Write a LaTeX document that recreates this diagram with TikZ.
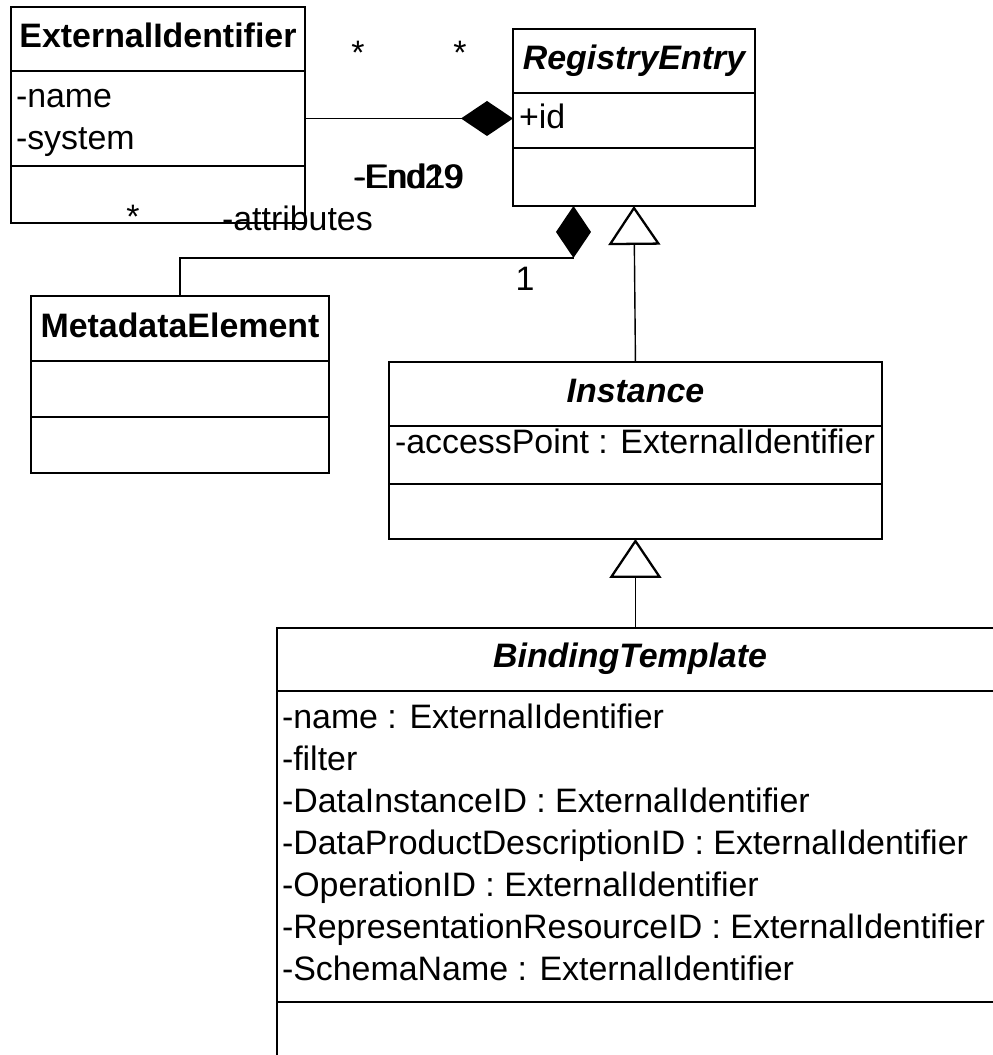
\documentclass[tikz,border=0pt]{standalone}
\usepackage{fontspec}
\setmainfont{Liberation Sans}
\usetikzlibrary{arrows.meta,positioning,calc}

\tikzset{
  every node/.style={font=\fontsize{19.3pt}{23pt}\selectfont, inner sep=0pt, outer sep=0pt},
  classpart/.style={draw, line width=1.5pt, minimum width=#1},
  classname/.style={text height=0.49cm, text depth=0.14cm},
  attr/.style={anchor=base west},
  mult/.style={anchor=base},
  role/.style={anchor=base west},
  composes/.style={line width=0.8pt, -{Diamond[length=1.04cm, width=0.7cm]}},
  inherits/.style={line width=0.8pt, -{Triangle[open, length=0.78cm, width=1.04cm, line width=1.3pt, fill=white]}}
}

\begin{document}
\begin{tikzpicture}[x=0.02cm, y=-0.02cm]
  \useasboundingbox (0,0) rectangle (993,1055);
  \clip (0,0) rectangle (993,1055);

  %the classes
  \node[classpart=5.88cm, minimum height=1.28cm, anchor=north west, classname] (extN) at (11,7) {\bfseries ExternalIdentifier};
  \node[classpart=5.88cm, minimum height=1.9cm, below=0pt of extN] (extA) {};
  \node[classpart=5.88cm, minimum height=1.14cm, below=0pt of extA] (extO) {};

  \node[classpart=4.84cm, minimum height=1.28cm, anchor=north west, classname] (regN) at (513,29) {\bfseries\itshape RegistryEntry};
  \node[classpart=4.84cm, minimum height=1.1cm, below=0pt of regN] (regA) {};
  \node[classpart=4.84cm, minimum height=1.16cm, below=0pt of regA] (regO) {};

  \node[classpart=5.96cm, minimum height=1.3cm, anchor=north west, classname] (metaN) at (31,296) {\bfseries MetadataElement};
  \node[classpart=5.96cm, minimum height=1.12cm, below=0pt of metaN] (metaA) {};
  \node[classpart=5.96cm, minimum height=1.12cm, below=0pt of metaA] (metaO) {};

  \node[classpart=9.86cm, minimum height=1.28cm, anchor=north west, classname] (instN) at (389,362) {\bfseries\itshape Instance};
  \node[classpart=9.86cm, minimum height=1.16cm, below=0pt of instN] (instA) {};
  \node[classpart=9.86cm, minimum height=1.1cm, below=0pt of instA] (instO) {};

  \node[classpart=14.8cm, minimum height=1.26cm, anchor=north west] (bindN) at (277,628) {};
  \node[classpart=14.8cm, minimum height=6.22cm, below=0pt of bindN] (bindA) {};
  \node[classpart=14.8cm, minimum height=1.6cm, below=0pt of bindA] (bindO) {};
  \node[classname] (bindT) at (630,659) {\bfseries\itshape BindingTemplate};

  %the attributes
  \node[attr] (extA1) at (16,107) {-name};
  \node[attr] (extA2) at (16,149) {-system};
  \node[attr] (regA1) at (519,128) {+id};
  \node[attr] (instA1) at (395,453) {-accessPoint : ExternalIdentifier};
  \foreach \a [count=\i] in {-name : ExternalIdentifier, -filter,
      -DataInstanceID : ExternalIdentifier,
      -DataProductDescriptionID : ExternalIdentifier,
      -OperationID : ExternalIdentifier,
      -RepresentationResourceID : ExternalIdentifier,
      -SchemaName : ExternalIdentifier}
    \node[attr] (bindA\i) at (282,{686+42*\i}) {\a};

  %the associations
  \draw[composes] (extA.east) -- (extA.east -| regA.west);
  \draw[composes] (metaN.north) |- ($(regO.south west)!0.25!(regO.south east)+(0,52)$)
        -- ($(regO.south west)!0.25!(regO.south east)$);
  \draw[inherits] (instN.north) -- (regO.south);
  \draw[inherits] (bindN.north -| instO.south) -- (instO.south);

  %multiplicities and roles
  \node[mult] (m1) at (358,64) {*};
  \node[mult] (m2) at (460,64) {*};
  \node[mult] (m3) at (133,228) {*};
  \node[mult] (m4) at (525,290) {1};
  \node[role] (r1) at (353,188) {-End29};
  \node[role] (r2) at (355,188) {-End19};
  \node[role] (r3) at (222,230) {-attributes};
\end{tikzpicture}
\end{document}
